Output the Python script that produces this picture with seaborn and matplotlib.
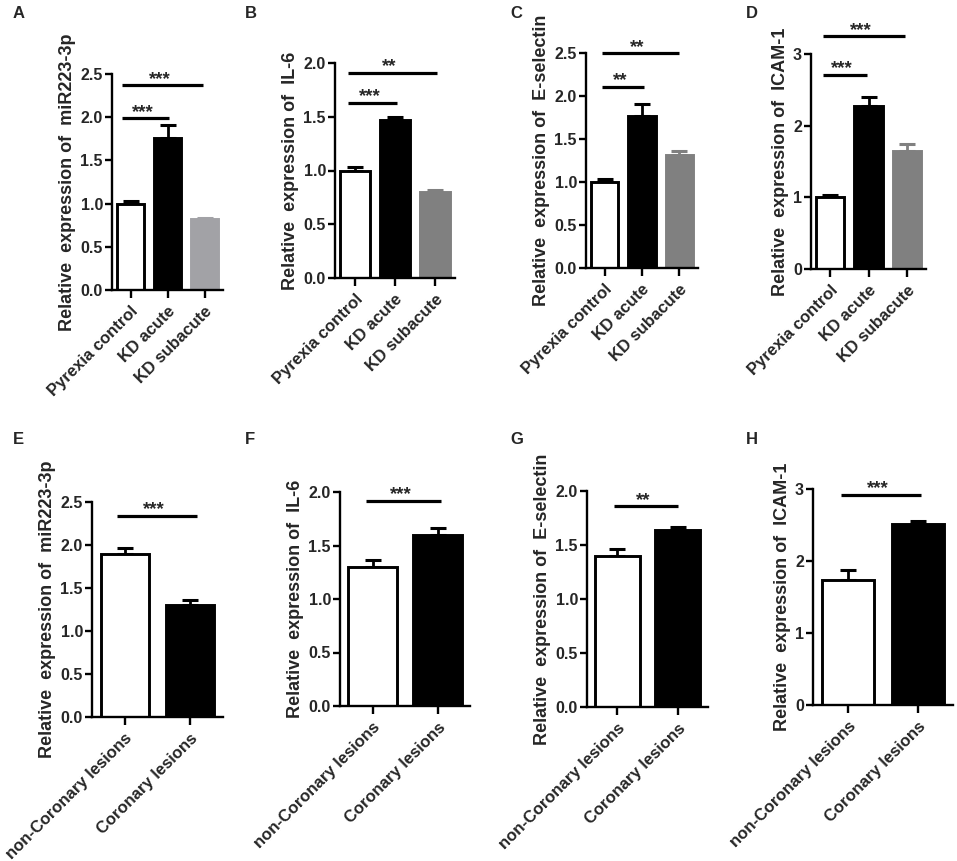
import numpy as np
import pandas as pd
import seaborn as sns
import matplotlib.pyplot as plt

# groups
groups_kd = ['Pyrexia control', 'KD acute', 'KD subacute']
groups_cor = ['non-Coronary lesions', 'Coronary lesions']

# top row: KD phases (mean, upper SEM)
mir_kd = [1.00, 1.76, 0.82]
mir_kd_err = [0.03, 0.15, 0.015]
il6_kd = [1.00, 1.47, 0.80]
il6_kd_err = [0.03, 0.03, 0.02]
esel_kd = [1.00, 1.77, 1.31]
esel_kd_err = [0.03, 0.14, 0.05]
icam_kd = [1.00, 2.27, 1.64]
icam_kd_err = [0.03, 0.13, 0.11]

# bottom row: coronary lesions
mir_cor = [1.90, 1.30]
mir_cor_err = [0.06, 0.06]
il6_cor = [1.30, 1.60]
il6_cor_err = [0.06, 0.06]
esel_cor = [1.40, 1.64]
esel_cor_err = [0.06, 0.03]
icam_cor = [1.74, 2.51]
icam_cor_err = [0.14, 0.05]

# significance brackets: (x0, x1, y, label)
sig_a = [(-0.24, 1.04, 1.99, '***'), (-0.24, 1.97, 2.37, '***')]
sig_b = [(-0.18, 1.05, 1.63, '***'), (-0.18, 2.05, 1.91, '**')]
sig_c = [(-0.08, 1.05, 2.11, '**'), (-0.08, 2.0, 2.50, '**')]
sig_d = [(-0.19, 0.97, 2.71, '***'), (-0.19, 1.95, 3.25, '***')]
sig_e = [(-0.12, 1.1, 2.34, '***')]
sig_f = [(-0.1, 1.05, 1.92, '***')]
sig_g = [(-0.06, 1.0, 1.86, '**')]
sig_h = [(-0.1, 1.04, 2.92, '***')]

WHITE, BLACK = '#ffffff', '#000000'
colors_a = [WHITE, BLACK, '#a2a2a6']
colors_kd = [WHITE, BLACK, '#808080']
colors_cor = [WHITE, BLACK]

sns.set_style('ticks')
plt.rcParams['font.family'] = ['Liberation Sans', 'DejaVu Sans']
plt.rcParams['font.weight'] = 'bold'
plt.rcParams['axes.labelweight'] = 'bold'

W, H = 957, 861
fig = plt.figure(figsize=(W / 100, H / 100), dpi=100)


def box(l, r, t, b):
    return [l / W, 1 - b / H, (r - l) / W, (b - t) / H]


panels = [
    ('A', box(112, 223, 74, 290), groups_kd, mir_kd, mir_kd_err, colors_a,
     'miR223-3p', 2.5, 0.5, sig_a, (13, 18)),
    ('B', box(335, 455, 63, 278), groups_kd, il6_kd, il6_kd_err, colors_kd,
     'IL-6', 2.0, 0.5, sig_b, (245, 18)),
    ('C', box(586, 698, 53, 268), groups_kd, esel_kd, esel_kd_err, colors_kd,
     'E-selectin', 2.5, 0.5, sig_c, (510, 18)),
    ('D', box(811, 926, 54, 269), groups_kd, icam_kd, icam_kd_err, colors_kd,
     'ICAM-1', 3, 1, sig_d, (746, 18)),
    ('E', box(92, 223, 502, 717), groups_cor, mir_cor, mir_cor_err, colors_cor,
     'miR223-3p', 2.5, 0.5, sig_e, (13, 444)),
    ('F', box(340, 470, 492, 706), groups_cor, il6_cor, il6_cor_err, colors_cor,
     'IL-6', 2.0, 0.5, sig_f, (245, 444)),
    ('G', box(587, 708, 491, 707), groups_cor, esel_cor, esel_cor_err, colors_cor,
     'E-selectin', 2.0, 0.5, sig_g, (510, 444)),
    ('H', box(813, 953, 489, 705), groups_cor, icam_cor, icam_cor_err, colors_cor,
     'ICAM-1', 3, 1, sig_h, (746, 444)),
]

for letter, pos, groups, vals, errs, cols, target, ymax, step, sigs, lpos in panels:
    ax = fig.add_axes(pos)
    df = pd.DataFrame({'group': groups, 'value': vals})
    sns.barplot(data=df, x='group', y='value', hue='group', order=groups,
                hue_order=groups, palette=cols, legend=False, width=0.74,
                ax=ax, linewidth=2.1, saturation=1)
    for patch, c in zip(ax.patches, cols):
        patch.set_edgecolor(BLACK if c == WHITE else c)
        patch.set_linewidth(2.1)
    for i, (v, e, c) in enumerate(zip(vals, errs, cols)):
        ec = BLACK if c == WHITE else c
        ax.errorbar(i, v, yerr=[[0], [e]], fmt='none', ecolor=ec,
                    elinewidth=2.0, capsize=6, capthick=2.2, zorder=0.5)
    for x0, x1, y, lab in sigs:
        ax.plot([x0, x1], [y, y], color='k', lw=2.3, clip_on=False,
                solid_capstyle='butt')
        ax.annotate(lab, xy=((x0 + x1) / 2, y), xytext=(-2, -2),
                    textcoords='offset points', ha='center', va='bottom',
                    fontsize=13.5, fontweight='bold', annotation_clip=False)

    n = len(groups)
    ticks = np.arange(0, ymax + step / 2, step)
    ax.set_xlim(-0.5, n - 0.5)
    ax.set_ylim(0, ymax)
    ax.set_yticks(ticks)
    if step < 1:
        ax.set_yticklabels([f'{t:.1f}' for t in ticks])
    else:
        ax.set_yticklabels([f'{t:.0f}' for t in ticks])
    ax.set_xlabel('')
    ax.set_ylabel(f'Relative  expression of  {target}', fontsize=13,
                  fontweight='bold', labelpad=3)
    ax.set_xticks(range(n))
    ax.set_xticklabels(groups, rotation=45, ha='right', rotation_mode='anchor',
                       fontsize=12, fontweight='bold')
    for t in ax.get_yticklabels():
        t.set_fontweight('bold')
        t.set_fontsize(11.5)
    ax.tick_params(axis='y', width=1.7, length=5, color='k', pad=1.5)
    ax.tick_params(axis='x', width=1.7, length=6, color='k', pad=4)
    sns.despine(ax=ax)
    for s in ('left', 'bottom'):
        ax.spines[s].set_linewidth(1.7)
        ax.spines[s].set_color('k')

    fig.text(lpos[0] / W, 1 - lpos[1] / H, letter, fontsize=12,
             fontweight='bold', ha='left', va='baseline')

plt.savefig('out.png', dpi=100)
